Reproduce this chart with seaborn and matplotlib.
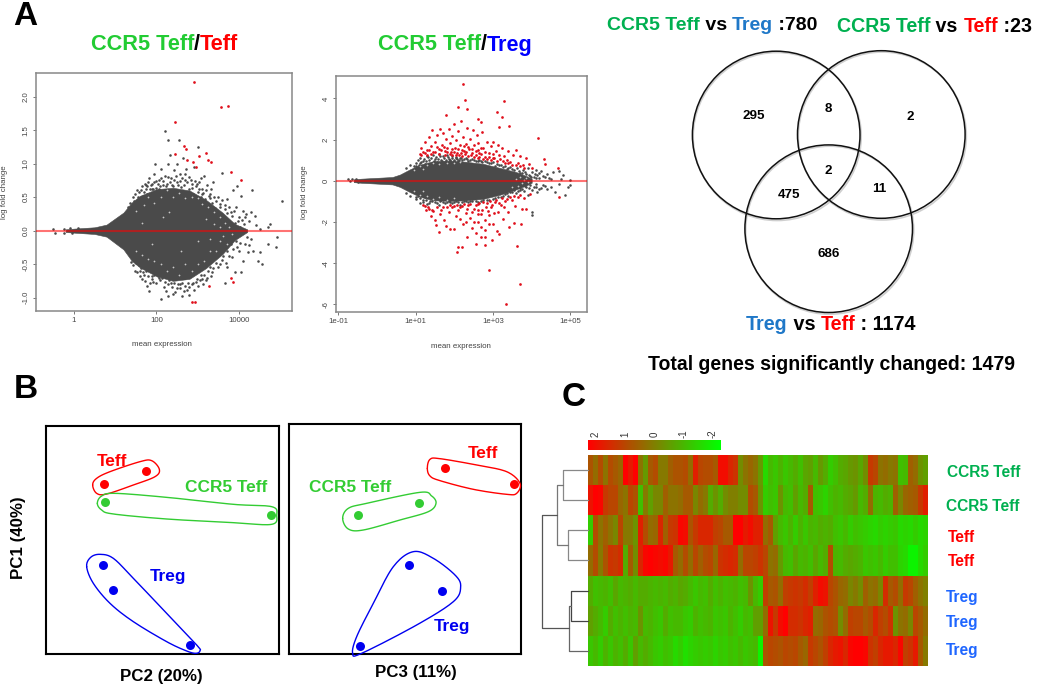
import numpy as np
import pandas as pd
import seaborn as sns
import matplotlib
matplotlib.use("Agg")
import matplotlib.pyplot as plt
from matplotlib.colors import LinearSegmentedColormap
from matplotlib.patches import Circle

sns.set_theme(style="white")
plt.rcParams['font.family'] = ['Liberation Sans', 'DejaVu Sans']

W, H = 1050, 686
RED, GREY = "#E0101C", "#4A4A4A"

# ---------- Panel A: MA plots (log10 mean expression, log fold change) ----------
a1_core_x = [-0.2, 0.0, 0.5, 0.79, 1.2, 1.4, 1.6, 2.0, 2.4, 2.8, 3.2, 3.6, 3.9, 4.2]
a1_core_top = [0.02, 0.03, 0.05, 0.09, 0.27, 0.42, 0.52, 0.62, 0.64, 0.6, 0.46, 0.27, 0.1, 0.02]
a1_core_bot = [-0.02, -0.03, -0.05, -0.09, -0.28, -0.45, -0.55, -0.68, -0.75, -0.72, -0.56, -0.35, -0.14, -0.02]
a1_grey = [(1.3,.36),(1.35,.41),(1.4,.33),(1.45,.45),(1.5,.38),(1.55,.5),(1.6,.44),(1.62,.6),(1.68,.52),(1.7,.42),
 (1.75,.68),(1.78,.55),(1.82,.47),(1.85,.62),(1.9,.7),(1.92,.54),(1.95,.85),(1.97,.99),(2.0,.64),(2.02,.52),
 (2.05,.75),(2.1,.58),(2.1,.92),(2.15,.68),(2.2,.55),(2.2,.82),(2.25,.7),(2.28,1.0),(2.3,.6),(2.32,1.13),
 (2.35,.78),(2.38,.55),(2.4,.66),(2.42,.9),(2.45,.6),(2.5,1.0),(2.5,.72),(2.55,.58),(2.58,.85),(2.6,.65),
 (2.65,1.08),(2.68,.75),(2.7,.55),(2.72,.92),(2.78,.62),(2.8,.8),(2.85,.7),(2.88,.54),(2.9,.95),(2.95,.66),
 (3.0,.58),(3.02,.72),(3.08,.5),(3.1,.62),(3.15,.82),(3.18,.47),(3.22,.68),(3.25,.4),(3.3,.55),(3.35,.42),
 (3.38,.72),(3.42,.34),(3.48,.5),(3.5,.25),(3.55,.4),(3.6,.86),(3.62,.2),(3.65,.32),(3.7,.47),(3.75,.15),
 (3.8,.28),(3.85,.6),(3.9,.12),(3.92,.36),(3.95,.66),(4.0,.2),(4.02,.05),(4.05,.52),(4.1,.3),(4.12,.1),
 (4.18,.25),(4.25,.15),(4.3,.28),(4.32,.6),(4.4,.22),(4.42,.08),(4.5,.02),(4.7,.05),(4.75,.1),(5.05,.45),
 (1.3,-.3),(1.35,-.35),(1.42,-.4),(1.5,-.48),(1.55,-.36),(1.6,-.6),(1.65,-.5),(1.7,-.44),(1.72,-.75),(1.78,-.58),
 (1.82,-.9),(1.85,-.5),(1.92,-.76),(1.95,-.62),(2.0,-.55),(2.05,-.7),(2.1,-.58),(2.12,-1.02),(2.18,-.84),(2.25,-.66),
 (2.28,-.97),(2.32,-.6),(2.35,-.78),(2.4,-.95),(2.42,-.65),(2.48,-.72),(2.5,-.86),(2.55,-.62),(2.58,-.8),(2.62,-.98),
 (2.68,-.7),(2.72,-.6),(2.75,-.88),(2.78,-.96),(2.82,-.68),(2.88,-.78),(2.92,-.62),(2.98,-.72),(3.02,-.56),(3.08,-.66),
 (3.12,-.8),(3.18,-.52),(3.22,-.7),(3.3,-.47),(3.35,-.62),(3.4,-.4),(3.48,-.55),(3.52,-.33),(3.6,-.44),(3.65,-.78),
 (3.7,-.3),(3.72,-.55),(3.8,-.2),(3.82,-.4),(3.9,-.62),(3.92,-.15),(4.0,-.3),(4.05,-.62),(4.1,-.45),(4.2,-.1),
 (4.25,-.22),(4.3,-.12),(4.35,-.3),(4.45,-.45),(4.5,-.32),(4.55,-.5),(4.7,-.2),(4.9,-.25),(4.92,-.1),
 (-.5,.03),(-.45,-.03),(-.25,.03),(-.25,-.03),(-.1,.04),(.1,.04),(-.05,-.04),
 (2.2,1.49),(2.27,1.35),(2.55,1.36),(3.0,1.25),
 (1.55,.46),(1.62,.5),(1.7,.58),(1.75,.62),(1.8,.72),(1.86,.68),(1.92,.62),(1.98,.74),(2.03,.7),(2.08,.66),
 (2.12,.78),(2.17,.74),(2.23,.66),(2.27,.8),(2.33,.72),(2.37,.68),(2.43,.76),(2.47,.82),(2.52,.68),(2.57,.74),
 (2.62,.78),(2.66,.68),(2.7,.84),(2.75,.72),(2.83,.76),(2.87,.64),(2.93,.74),(2.98,.7),(3.04,.62),(3.07,.78),
 (3.12,.56),(3.2,.6),(3.27,.52),(3.33,.62),(3.4,.5),(3.45,.44),(3.53,.36),(3.58,.46),(3.67,.38),(3.72,.26),
 (3.77,.36),(3.83,.22),(3.88,.3),(3.97,.14),(4.08,.16),(4.15,.2),(3.3,.48),(3.1,.54),(2.05,.62),
 (1.45,-.42),(1.58,-.52),(1.62,-.56),(1.68,-.62),(1.75,-.6),(1.8,-.68),(1.88,-.72),(1.93,-.66),(2.0,-.78),(2.03,-.68),
 (2.08,-.74),(2.14,-.7),(2.2,-.76),(2.23,-.9),(2.27,-.8),(2.3,-.74),(2.37,-.84),(2.43,-.78),(2.46,-.92),(2.52,-.8),
 (2.57,-.86),(2.62,-.78),(2.66,-.9),(2.7,-.82),(2.77,-.78),(2.8,-.84),(2.85,-.8),(2.9,-.88),(2.95,-.76),(3.0,-.82),
 (3.05,-.74),(3.1,-.72),(3.15,-.66),(3.2,-.74),(3.25,-.6),(3.32,-.68),(3.38,-.56),(3.45,-.48),(3.55,-.5),(3.62,-.38),
 (3.68,-.48),(3.75,-.38),(3.85,-.28),(3.95,-.24),(4.02,-.18),(4.15,-.2),(4.22,-.32),(3.3,-.55),
 (1.42,.5),(1.48,.55),(1.52,.6),(1.58,.58),(1.65,.66),(1.72,.7),(1.78,.66),(1.83,.78),(1.88,.62),(1.94,.72),
 (1.38,-.47),(1.44,-.52),(1.48,-.6),(1.54,-.62),(1.6,-.68),(1.66,-.72),(1.7,-.66),(1.76,-.82),(1.84,-.78),(1.9,-.68)]
a1_gaps = [(1.5,.3),(1.7,.38),(1.8,.5),(1.95,.42),(2.1,.5),(2.25,.6),(2.4,.5),(2.55,.56),(2.7,.48),(2.85,.5),
 (3.0,.48),(3.1,.4),(3.25,.36),(3.4,.28),(3.55,.2),(3.65,.12),(3.75,.06),(3.82,-.05),(3.7,-.2),(3.55,-.15),
 (3.45,-.3),(3.3,-.3),(3.15,-.45),(3.0,-.5),(2.85,-.6),(2.7,-.5),(2.55,-.66),(2.4,-.55),(2.25,-.6),(2.1,-.5),
 (1.95,-.45),(1.8,-.42),(1.65,-.36),(1.5,-.3),(3.4,.1),(3.2,.18),(2.3,.28),(1.9,-.2),(2.6,-.3),(3.0,-.15),
 (3.55,.05),(3.62,-.08),(3.3,-.12),(2.15,.2),(1.65,.12)]
a1_red = [(2.9,2.22),(3.57,1.85),(3.73,1.86),(2.44,1.62),(2.66,1.27),(2.72,1.22),(2.45,1.15),(3.03,1.12),(3.2,1.16),
 (3.24,1.05),(3.31,1.02),(2.88,1.03),(2.74,1.05),(2.96,.95),(3.81,.88),(4.06,.75),(3.81,-.7),(3.85,-.77),(3.27,-.82),
 (2.86,-1.06),(2.93,-1.06)]

a2_core_x = [-0.6, -0.4, 0.0, 0.4, 0.594, 0.85, 1.11, 1.45, 1.9, 2.3, 2.75, 3.18, 3.6, 3.87, 4.0]
a2_core_top = [0.07, 0.1, 0.14, 0.18, 0.3, 0.55, 0.78, 0.95, 0.98, 0.92, 0.82, 0.62, 0.42, 0.22, 0.1]
a2_core_bot = [-0.07, -0.1, -0.14, -0.18, -0.3, -0.55, -0.78, -0.95, -0.98, -0.95, -0.88, -0.68, -0.42, -0.22, -0.1]
a2_grey = [(.75,.6),(.85,.75),(.95,.7),(1.0,.85),(1.05,1.0),(1.1,.85),(1.12,1.12),(1.2,.95),(1.25,.8),(1.3,1.2),
 (1.35,1.0),(1.42,.85),(1.45,1.25),(1.5,1.05),(1.55,.9),(1.6,1.3),(1.65,1.0),(1.7,1.18),(1.75,.92),(1.8,1.25),
 (1.85,1.05),(1.9,.95),(1.95,1.2),(2.0,1.0),(2.05,1.15),(2.1,.95),(2.15,1.1),(2.2,1.0),(2.3,1.12),(2.35,.95),
 (2.45,1.05),(2.55,.95),(2.65,1.0),(2.72,.9),(2.8,.95),(2.9,.85),(3.0,.9),(3.1,.8),(3.2,.78),(3.3,.72),
 (3.35,.55),(3.45,.65),(3.55,.5),(3.62,.6),(3.7,.38),(3.78,.5),(3.85,.35),(3.9,.6),(3.95,.25),(4.0,.4),
 (4.05,.2),(4.1,.5),(4.15,.3),(4.2,.15),(4.25,.45),(4.3,.25),(4.4,.35),(4.45,.15),(4.5,.08),(4.55,.4),
 (4.7,.45),(4.75,.1),(4.8,.28),(5.0,.05),
 (.75,-.6),(.85,-.75),(1.0,-.9),(1.05,-.75),(1.12,-1.1),(1.2,-.95),(1.25,-.8),(1.3,-1.15),(1.38,-1),(1.45,-.85),
 (1.5,-1.05),(1.6,-1.2),(1.65,-.95),(1.75,-1.1),(1.85,-1),(1.95,-1.1),(2.05,-.98),(2.15,-1.2),(2.25,-1),(2.35,-1.05),
 (2.45,-1),(2.6,-1.05),(2.75,-.95),(2.9,-.95),(3.05,-.85),(3.2,-.8),(3.3,-.65),(3.4,-.72),(3.5,-.55),(3.6,-.6),
 (3.7,-.45),(3.8,-.5),(3.85,-.3),(3.9,-.7),(3.95,-.2),(4.0,-.45),(4.1,-.3),(4.15,-.55),(4.25,-.35),(4.3,-.2),
 (4.4,-.4),(4.5,-.3),(4.6,-.55),(4.7,-.15),(4.85,-.7),(4.95,-.3),(5.0,-.2),(4.02,-1.5),(4.02,-1.65),(3.7,-.35),
 (-.75,.1),(-.65,.1),(-.7,0.0),(-.55,.08),(-.5,-.08),
 (1.0,.7),(1.08,.75),(1.15,.9),(1.22,1.05),(1.28,.95),(1.33,1.15),(1.4,1.1),(1.48,.98),(1.53,1.15),(1.58,1.05),
 (1.63,1.18),(1.68,.95),(1.73,1.08),(1.78,1.02),(1.83,1.15),(1.88,1.02),(1.93,1.1),(1.98,.98),(2.03,1.08),(2.08,1.05),
 (2.13,1.02),(2.18,1.08),(2.25,1.05),(2.33,1.05),(2.4,1.0),(2.5,1.02),(2.6,.98),(2.7,.95),(2.85,.92),(2.95,.88),
 (3.05,.72),(3.15,.76),(3.25,.68),(3.4,.6),(3.5,.55),(3.68,.48),(3.75,.36),(3.82,.42),(3.92,.3),(3.98,.2),
 (4.08,.32),(4.12,.15),(4.18,.38),(4.35,.2),
 (1.02,-.8),(1.1,-.85),(1.18,-1.02),(1.28,-.95),(1.35,-1.08),(1.42,-1),(1.55,-1.1),(1.62,-1.0),(1.7,-1.05),(1.8,-1.02),
 (1.9,-1.05),(2.0,-1.02),(2.1,-1.05),(2.2,-1.05),(2.3,-1.0),(2.4,-.98),(2.55,-1.0),(2.7,-1.0),(2.85,-.92),(3.0,-.88),
 (3.12,-.78),(3.25,-.72),(3.35,-.62),(3.45,-.55),(3.55,-.45),(3.65,-.48),(3.75,-.38),(3.82,-.25),(3.92,-.35),(4.05,-.3),
 (4.12,-.15),(4.2,-.4),(4.35,-.25)]
a2_gaps = [(.95,.5),(1.1,.7),(1.3,.75),(1.45,.85),(1.6,.8),(1.8,.88),(2.0,.85),(2.15,.9),(.95,-.5),(1.1,-.68),
 (1.3,-.75),(1.45,-.9),(1.6,-.8),(1.8,-.92),(2.0,-.85),(1.2,.55),(1.2,-.5),(3.6,.1),(3.7,.2),(3.75,-.1),
 (3.8,.05),(3.65,-.25),(3.85,.15),(3.9,-.08),(3.5,-.3)]
a2_red = [(2.23,4.7),(2.28,3.92),(2.32,3.5),(2.1,3.56),(1.78,3.2),(3.28,3.87),(3.09,3.34),(3.23,3.1),(3.15,2.6),(3.42,2.65),
 (2.6,3.0),(2.69,2.85),(4.16,2.07),(4.33,1.05),(4.34,.8),(4.69,.63),
 (1.1,1.3),(1.15,1.6),(1.2,1.4),(1.25,1.9),(1.3,1.5),(1.35,2.1),(1.4,1.7),(1.42,2.45),(1.45,1.4),(1.5,1.9),
 (1.55,2.2),(1.6,1.55),(1.62,2.5),(1.68,1.75),(1.7,2.3),(1.75,1.45),(1.78,2.05),(1.82,1.6),(1.85,2.5),(1.9,1.85),
 (1.92,1.4),(1.95,2.15),(2.0,2.75),(2.02,1.6),(2.05,2.0),(2.08,1.35),(2.1,2.4),(2.15,1.75),(2.18,2.9),(2.2,1.5),
 (2.22,2.1),(2.28,1.3),(2.3,1.8),(2.32,2.55),(2.38,1.55),(2.4,2.05),(2.45,1.35),(2.48,2.45),(2.5,1.75),(2.55,1.25),
 (2.58,2.2),(2.6,1.5),(2.62,1.85),(2.7,1.3),(2.72,2.35),(2.75,1.6),(2.8,1.15),(2.85,1.9),(2.9,1.35),(2.95,1.7),
 (3.0,1.9),(3.02,1.1),(3.08,1.45),(3.12,1.75),(3.18,1.05),(3.22,1.6),(3.28,1.2),(3.35,1.0),(3.4,1.45),(3.45,.9),
 (3.52,1.25),(3.6,1.5),(3.65,.85),(3.7,1.2),(3.78,.75),(3.85,1.1),(3.92,.8),(4.0,.62),(1.3,1.25),(1.6,1.3),
 (1.95,1.25),(2.35,1.2),(2.65,1.15),(3.0,1.3),(2.25,1.45),(2.12,1.25),(1.75,1.25),
 (1.2,-1.2),(1.28,-1.4),(1.35,-1.35),(1.4,-1.7),(1.45,-1.45),(1.5,-1.9),(1.52,-2.15),(1.6,-2.5),(1.62,-1.6),(1.7,-1.3),
 (1.72,-1.9),(1.78,-2.2),(1.85,-1.5),(1.9,-2.35),(1.95,-1.3),(2.0,-2.35),(2.05,-1.7),(2.07,-3.45),(2.09,-3.2),(2.19,-3.22),
 (2.34,-2.72),(2.55,-3.08),(2.79,-3.14),(2.97,-2.88),(2.7,-2.75),(2.78,-2.72),(3.63,-3.18),(2.9,-4.35),(3.7,-5.0),(3.34,-5.98),
 (2.1,-1.4),(2.15,-1.85),(2.2,-1.25),(2.22,-2.1),(2.3,-1.55),(2.35,-1.2),(2.4,-1.8),(2.45,-2.3),(2.5,-1.35),(2.52,-2.0),
 (2.55,-2.55),(2.6,-1.15),(2.62,-1.6),(2.68,-2.25),(2.72,-1.4),(2.78,-1.9),(2.8,-2.4),(2.85,-1.1),(2.9,-1.65),(2.95,-1.3),
 (3.0,-2.1),(3.05,-1.05),(3.1,-2.45),(3.12,-1.5),(3.15,-2.6),(3.2,-1.2),(3.25,-1.85),(3.3,-1.0),(3.38,-1.5),(3.42,-2.25),
 (3.5,-.95),(3.55,-2.05),(3.58,-1.25),(3.65,-.8),(3.72,-2.1),(3.8,-.85),(3.85,-1.35),(3.95,-.65),(4.7,-.8),
 (1.15,1.25),(1.25,1.35),(1.35,1.5),(1.4,1.3),(1.5,1.4),(1.55,1.65),(1.65,1.5),(1.72,1.65),(1.8,1.4),(1.88,1.3),
 (1.95,1.55),(2.0,1.4),(2.05,1.25),(2.1,1.55),(2.17,1.35),(2.2,1.2),(2.25,1.7),(2.3,1.4),(2.35,1.65),(2.42,1.25),
 (2.45,1.55),(2.5,1.15),(2.55,1.45),(2.6,1.1),(2.65,1.35),(2.7,1.6),(2.75,1.05),(2.8,1.4),(2.85,1.05),(2.9,1.15),
 (2.95,1.0),(3.0,1.1),(3.1,.95),(3.15,1.25),(3.25,.95),(3.3,.85),(3.4,.85),(3.5,.75),(3.6,.75),(3.7,.7),(3.8,.62),
 (1.25,-1.25),(1.32,-1.3),(1.42,-1.4),(1.55,-1.3),(1.65,-1.4),(1.8,-1.3),(1.9,-1.2),(2.0,-1.25),(2.08,-1.2),(2.15,-1.3),
 (2.25,-1.15),(2.32,-1.35),(2.4,-1.15),(2.45,-1.5),(2.55,-1.2),(2.6,-1.4),(2.65,-1.1),(2.7,-1.6),(2.75,-1.05),(2.82,-1.3),
 (2.88,-1.45),(2.92,-1.0),(2.98,-1.2),(3.02,-1.55),(3.08,-.95),(3.15,-1.1),(3.22,-.85),(3.28,-1.3),(3.35,-.9),(3.45,-.8),
 (3.55,-.75),(3.7,-.7),(3.75,-1.35),(2.3,-2.0),(2.6,-2.0),(2.9,-2.1)]

# ---------- Panel A: Venn counts ----------
venn_counts = [295, 8, 2, 2, 475, 11, 686]

# ---------- Panel B: PCA scores (scaled to the frame) ----------
pc2_teff = [(.248,.745),(.428,.802)]
pc2_ccr5 = [(.255,.665),(.966,.611)]
pc2_treg = [(.245,.389),(.287,.280),(.620,.039)]
pc3_teff = [(.673,.807),(.968,.738)]
pc3_ccr5 = [(.298,.605),(.560,.658)]
pc3_treg = [(.518,.385),(.660,.275),(.307,.033)]

# ---------- Panel C: heat map ----------
heat_rows = ["CCR5 Teff", "CCR5 Teff", "Teff", "Teff", "Treg", "Treg", "Treg"]
heat_key = [2, 1, 0, -1, -2]
r1 = [.7,.3,.8,.2,.8,.6,.4,2,1.6,2,.2,-.4,.6,.8,.1,.1,.5,.7,.7,.8,.3,1.5,.9,.8,.8,.6,1.8,1.8,1.4,1.2,-.2,.2,.4,.2,
      -.4,-1.4,-.9,-1.1,-.8,-1.1,-.9,-.7,-1,-.6,-.5,-.9,-.4,-.7,-1.2,-1,-.7,-.6,-.4,-.3,-.6,-.2,1.1,.9,.2,.3,.1,.2,-1,-.9,.5,.3,-.3,-.5]
r2 = [1.7,2,1.9,1.1,.9,.9,.4,.2,.9,.7,-1,.1,-.5,-.1,-.1,.5,.2,.2,.3,.6,.6,-.1,.3,.1,-.7,-.3,-.7,-.2,0,0,-.2,-.2,.8,.6,
      -.3,-1.2,-1,-1.1,-.3,-.9,-1,-.5,-.9,-.7,.6,-1,-1.1,-1.3,-1,-.8,-.9,-.7,-.6,-.4,-.9,-.7,.3,-.8,-.9,-.7,-.8,.5,-.1,.4,.5,.6,1.1,1.5]
r3 = [-1.2,.8,.2,.5,.2,-.1,.9,.1,.1,-.3,1.5,.8,.3,.4,1.4,.5,1.1,1.2,1.9,1.8,.7,1.1,1.4,1.4,1.4,1.0,.9,.6,.6,2,2,1.6,1.8,1.5,
      1.5,.3,.6,-.5,-.9,-1.1,-.8,-1.2,-.8,-1.1,-.8,-.9,-.7,-.8,-.7,-1,-1.1,-.9,-1.2,-1,-1.1,-1.2,-1.3,-1.4,-1.2,-1.3,-1.2,-1.1,-1.4,-1.3,-1.4,-1.2,-1.4,-1.3]
r4 = [.3,.8,.1,.7,1.2,1.1,1.3,-.7,.6,-.2,1.4,1.9,2,1.9,1.8,1.9,1.6,.6,.3,.8,.3,.9,.5,.8,.9,.4,1.2,1.3,1.4,1.3,.3,.9,.9,1,
      1.2,.9,.2,.3,-.4,-.9,-1,-.6,-.9,-.8,-1,-.6,-.9,-.7,.8,-.8,-.9,-.7,-.6,-.7,-.8,-1.1,-1,-1.1,-.9,-1.2,-1,-1,-1.3,-1.4,-1.8,-1.8,-1.4,-1.2]
r5 = [-.7,-1,-.9,-.8,-1,-.6,-.9,-.8,-.7,-.9,-.7,-.7,-.8,-.9,-.8,-.9,-.7,-.8,-.6,-.7,-.9,-1.1,-.9,-1,-.7,-1,-.8,-1,-.9,-.8,-1,-.9,-.3,-.9,
      -1.2,1,.6,.7,.3,1,1.1,1.2,1.1,1.3,1,1.5,1.8,1.7,.9,.7,.4,.3,-.1,.1,-.2,.5,.2,.3,-.1,1.3,.6,.8,.3,1.1,.9,.5,.2,0]
r6 = [-.5,-.7,-.9,-1.2,-.7,-1,-.8,-1,-.8,-.9,-.3,-.9,-.8,-1,-1.1,-.7,-1,-.9,-.9,-1.1,-1.2,-.8,-1,-.9,-.8,-1.1,-1,-1.1,-.8,-1,-1.2,-.9,-1,-.5,
      -.5,.3,1.7,1.1,1.8,2,1.3,1.3,1.2,1.4,1.5,.3,.4,.7,.8,.7,-.2,.3,1,.9,.9,.6,.8,1.4,1.0,.8,1.2,-.3,.2,.3,-.1,.9,.6,.3]
r7 = [-1.1,-.9,-1.2,-.8,-1.1,-.8,-1,-.7,-1.1,-.5,-.9,-.7,-.9,-1.1,-1.2,-1,-1.1,-1.4,-1.2,-1.5,-1.3,-1.2,-1.1,-1.2,-1.1,-1.3,-1.1,-1.2,-1,-1.1,-.9,-1.1,-1,-.9,
      -1.8,.7,.9,.8,.7,.9,.8,.9,.6,.4,1.1,.9,.7,1.0,1.4,1.6,1.7,1.4,1.9,2,2,1.9,1.2,1.0,1.4,1.6,1.6,1.4,1.9,1,1.2,1.6,.6,.1]

# ---------- helpers ----------
fig = plt.figure(figsize=(W / 100, H / 100), dpi=100, facecolor="white")


def px_axes(x0, y0, x1, y1, **kw):
    return fig.add_axes([x0 / W, 1 - y1 / H, (x1 - x0) / W, (y1 - y0) / H], **kw)


def ma_panel(box, core_x, core_top, core_bot, grey, gaps, red, xticks, xlabels, yticks, ylabels, xlim, ylim):
    ax = px_axes(*box)
    ax.set_facecolor("white")
    cx = np.power(10.0, core_x)
    ax.fill_between(cx, core_bot, core_top, color=GREY, lw=0.4, zorder=2)
    for pts, col, size, z in ((grey, GREY, 3.4, 3), (gaps, "#C8C8C8", 1.6, 3.5), (red, RED, 3.8, 3.6)):
        d = pd.DataFrame(pts, columns=["logx", "lfc"])
        d["mean"] = np.power(10.0, d["logx"])
        sns.scatterplot(data=d, x="mean", y="lfc", ax=ax, color=col, s=size, marker="o",
                        linewidth=0, zorder=z, legend=False)
    ax.set_xscale("log")
    ax.set_xlim(10.0 ** xlim[0], 10.0 ** xlim[1])
    ax.set_ylim(*ylim)
    ax.axhline(0, color="#FF0000", alpha=0.55, lw=1.5, zorder=4)
    ax.set_xticks(xticks, labels=xlabels)
    ax.minorticks_off()
    ax.set_yticks(yticks, labels=ylabels)
    ax.tick_params(axis="both", length=2.5, width=0.7, color="#777777", labelsize=5.6,
                   labelcolor="#444444", pad=2, bottom=True, left=True)
    for lab in ax.get_yticklabels():
        lab.set_rotation(90)
        lab.set_va("center")
    ax.set_xlabel("")
    ax.set_ylabel("")
    for s in ax.spines.values():
        s.set_color("#888888")
        s.set_linewidth(1.1)
    return ax


ma_panel((36, 73, 292, 311), a1_core_x, a1_core_top, a1_core_bot, a1_grey, a1_gaps, a1_red,
         [1, 100, 10000], ["1", "100", "10000"],
         [-1, -.5, 0, .5, 1, 1.5, 2], ["-1.0", "-0.5", "0.0", "0.5", "1.0", "1.5", "2.0"],
         (-0.92, 5.285), (-1.2, 2.354))
ma_panel((336, 75.7, 587, 311.7), a2_core_x, a2_core_top, a2_core_bot, a2_grey, a2_gaps, a2_red,
         [0.1, 10, 1000, 100000], ["1e-01", "1e+01", "1e+03", "1e+05"],
         [-6, -4, -2, 0, 2, 4], ["-6", "-4", "-2", "0", "2", "4"],
         (-1.06, 5.43), (-6.36, 5.1))


def pca_panel(box, teff, ccr5, treg):
    ax = px_axes(*box)
    ax.set_facecolor("white")
    for pts, col in ((teff, "#FF0000"), (ccr5, "#33CC33"), (treg, "#0000F0")):
        d = pd.DataFrame(pts, columns=["a", "b"])
        sns.scatterplot(data=d, x="a", y="b", ax=ax, color=col, s=42, linewidth=0, legend=False,
                        zorder=4, clip_on=False)
    ax.set_xlim(0, 1)
    ax.set_ylim(0, 1)
    ax.set_xticks([])
    ax.set_yticks([])
    ax.set_xlabel("")
    ax.set_ylabel("")
    for s in ax.spines.values():
        s.set_color("black")
        s.set_linewidth(1.5)
        s.set_visible(True)


pca_panel((46, 425.7, 279, 654.3), pc2_teff, pc2_ccr5, pc2_treg)
pca_panel((288.7, 424, 521, 653.7), pc3_teff, pc3_ccr5, pc3_treg)

heat_cmap = LinearSegmentedColormap.from_list("rg", ["#00FF00", "#808000", "#FF0000"])
heat_ax = px_axes(588.3, 455, 928.3, 666)
sns.heatmap(pd.DataFrame([r1, r2, r3, r4, r5, r6, r7]), ax=heat_ax, cmap=heat_cmap, vmin=-2, vmax=2,
            cbar=False, xticklabels=False, yticklabels=False, linewidths=0)
heat_ax.set_xlabel("")
heat_ax.set_ylabel("")

key_ax = px_axes(588, 440, 720.7, 450)
key_ax.imshow(np.linspace(2, -2, 132).reshape(1, -1), cmap=heat_cmap, vmin=-2, vmax=2, aspect="auto")
key_ax.set_axis_off()

# ---------- overlay in picture pixels ----------
ov = fig.add_axes([0, 0, 1, 1], zorder=20)
ov.set_xlim(0, W)
ov.set_ylim(H, 0)
ov.set_axis_off()
ov.patch.set_alpha(0)
fig.canvas.draw()
rend = fig.canvas.get_renderer()


def seg_text(x0, x1, yc, segs, weight="bold", family="Liberation Sans"):
    def width(s, fs):
        t = ov.text(0, 0, s + ".", fontsize=fs, fontweight=weight, family=family)
        w = t.get_window_extent(rend).width
        t.remove()
        return w
    full = "".join(s for s, _ in segs)
    base = width(full, 20) - width("", 20)
    fs = 20 * (x1 - x0) / base
    dot = width("", fs)
    prefix = ""
    for s, c in segs:
        x = x0 + width(prefix, fs) - dot
        ov.text(x, yc, s, color=c, fontsize=fs, fontweight=weight, va="center", ha="left", family=family)
        prefix += s


def ctext(x, y, s, color="black", fs=11.5, rotation=0, weight="bold", ha="center", va="center"):
    ov.text(x, y, s, color=color, fontsize=fs, fontweight=weight, ha=ha, va=va, rotation=rotation)


def loop(pts, color):
    p = np.array(pts, dtype=float) / 3 + np.array([0, 370])
    n = len(p)
    out = []
    for i in range(n):
        a, b, c, d = p[i - 1], p[i], p[(i + 1) % n], p[(i + 2) % n]
        for t in np.linspace(0, 1, 12, endpoint=False):
            out.append(0.5 * (2 * b + (c - a) * t + (2 * a - 5 * b + 4 * c - d) * t ** 2
                              + (3 * b - a - 3 * c + d) * t ** 3))
    out.append(out[0])
    out = np.array(out)
    ov.plot(out[:, 0], out[:, 1], color=color, lw=1.0, solid_joinstyle="round")


# panel letters
ctext(13, 25, "A", fs=24, ha="left", va="baseline")
ctext(14, 398, "B", fs=24, ha="left", va="baseline")
ctext(562, 406, "C", fs=24, ha="left", va="baseline")

# MA titles and axis text
G_T, R_T, B_T = "#22CC33", "#FF0000", "#0000FF"
seg_text(90.7, 238.7, 45, [("CCR5 Teff", G_T), ("/", "black"), ("Teff", R_T)])
seg_text(378, 533, 45, [("CCR5 Teff", G_T), ("/", "black"), ("Treg", B_T)])
for x, y in ((162, 345), (461, 346)):
    ctext(x, y, "mean expression", color="#444444", fs=5.7, weight="normal")
for x, y in ((5, 192), (305, 192)):
    ctext(x, y, "log fold change", color="#444444", fs=5.7, weight="normal", rotation=90)

# Venn
V_G, V_B, V_R = "#00B050", "#1F78C8", "#FF0000"
seg_text(607, 818, 25, [("CCR5 Teff", V_G), (" vs ", "black"), ("Treg", V_B), (" :780", "black")])
seg_text(837, 1032, 27, [("CCR5 Teff", V_G), (" vs ", "black"), ("Teff", V_R), (" :23", "black")])
seg_text(746, 916, 325, [("Treg", V_B), (" vs ", "black"), ("Teff", V_R), (" : 1174", "black")])
seg_text(648, 1015, 365, [("Total genes significantly changed: 1479", "black")])
for cx, cy in ((776.2, 135), (881.3, 134.5), (828.7, 228.7)):
    ov.add_patch(Circle((cx + 1, cy + 1.5), 84, fill=False, ec="#CFCFCF", lw=1.2))
for cx, cy in ((776.2, 135), (881.3, 134.5), (828.7, 228.7)):
    ov.add_patch(Circle((cx, cy), 83.8, fill=False, ec="#111111", lw=1.1))
venn_xy = [(754, 116), (828, 109), (910, 117), (828, 171), (789, 195), (879, 189), (829, 254)]
for (x, y), n in zip(venn_xy, venn_counts):
    ctext(x, y, str(n), fs=9.6)

# PCA outlines and labels
C_R, C_G, C_B = "#FF0000", "#33CC33", "#0000F0"
loop([(278,345),(290,325),(330,305),(420,275),(455,272),(478,298),(465,320),(400,345),(320,372),(290,370)], C_R)
loop([(292,400),(305,378),(345,370),(500,382),(700,403),(815,410),(830,435),(815,463),(700,458),(500,447),(340,432),(305,420)], C_G)
loop([(260,590),(272,562),(300,553),(340,565),(400,625),(500,730),(590,825),(600,842),(588,850),(560,843),(500,815),(400,755),(330,700),(280,640)], C_B)
loop([(1282,295),(1290,268),(1320,266),(1430,285),(1520,305),(1560,340),(1550,370),(1520,373),(1420,358),(1320,332),(1290,318)], C_R)
loop([(1028,445),(1045,415),(1100,400),(1260,367),(1295,378),(1308,400),(1285,425),(1200,450),(1090,480),(1045,477)], C_G)
loop([(1058,850),(1070,800),(1120,700),(1180,590),(1240,545),(1300,565),(1365,615),(1382,650),(1360,695),(1250,765),(1085,850)], C_B)
for x, y, s, c in ((112, 461, "Teff", C_R), (226, 487, "CCR5 Teff", C_G), (168, 577, "Treg", C_B),
                   (483, 453, "Teff", C_R), (350, 487, "CCR5 Teff", C_G), (452, 626, "Treg", C_B)):
    ctext(x, y, s, color=c, fs=12.4)
ctext(19, 538, "PC1 (40%)", fs=12.2, rotation=90)
ctext(161, 676, "PC2 (20%)", fs=12.2)
ctext(416, 673, "PC3 (11%)", fs=12.2)

# heat map key ticks and row labels
for x, v in zip((595.7, 625, 654.3, 683.7, 713), heat_key):
    ctext(x, 434, str(v), color="#333333", fs=7, rotation=90, weight="normal")
label_colors = {"CCR5 Teff": "#00B050", "Teff": "#FF0000", "Treg": "#1F66FF"}
label_pos = [(946.7, 472.7), (945.7, 506.7), (947.7, 538), (947.7, 562), (945.7, 597.7), (945.7, 622), (945.7, 651)]
for (x, y), s in zip(label_pos, heat_rows):
    ctext(x, y, s, color=label_colors[s], fs=11.2, ha="left")

# dendrogram
dendro = [((175, 270), (98, 270), (98, 360), (175, 360)),
          ((175, 451), (115, 451), (115, 541), (175, 541)),
          ((98, 315), (82, 315), (82, 496), (115, 496)),
          ((175, 632), (123, 632), (123, 722), (175, 722)),
          ((123, 677), (118, 677), (118, 812), (175, 812)),
          ((82, 405), (35, 405), (35, 745), (118, 745))]
dendro_cols = ["#888888", "#888888", "#777777", "#444444", "#666666", "#555555"]
for seg, col in zip(dendro, dendro_cols):
    a = np.array(seg, dtype=float) / 3 + np.array([530, 380])
    ov.plot(a[:, 0], a[:, 1], color=col, lw=0.9)

fig.savefig("out.png", dpi=100, facecolor="white")
